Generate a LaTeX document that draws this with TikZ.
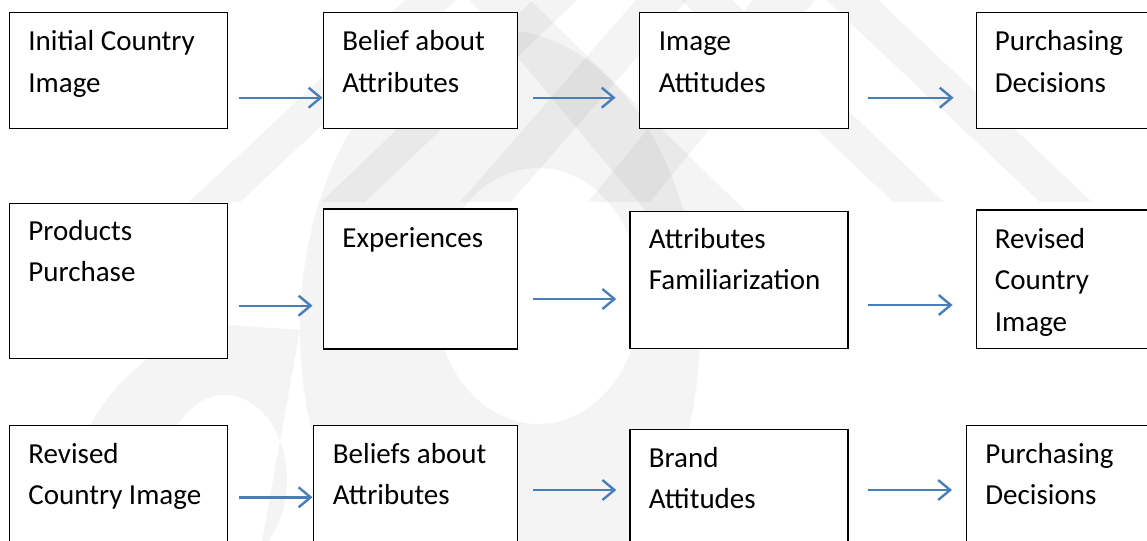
\documentclass[tikz,border=0pt]{standalone}
\usepackage{fontspec}
\setmainfont{Carlito}
\usetikzlibrary{arrows.meta,calc}
\definecolor{arrowblue}{HTML}{4A7EBB}
\begin{document}
\begin{tikzpicture}[x=0.5pt,y=-0.5pt,
  box/.style 2 args={draw=black, line width=0.6pt, fill=white, rectangle,
    anchor=north west, inner sep=0pt, minimum width=#1*0.5pt, minimum height=#2*0.5pt},
  lbl/.style={anchor=base west, inner sep=0pt, font=\fontsize{14.5pt}{20.75pt}\selectfont},
  arr/.style={draw=arrowblue, line width=1.2pt, -{Straight Barb[length=6pt,width=10pt]}},
  wm/.style={fill=black, fill opacity=0.045, draw=none}]
\useasboundingbox (0,0) rectangle (1147,541);
\clip (0,0) rectangle (1147,541);

% faint watermark
\fill[wm] (405,0) -- (456,0) -- (240,202) -- (189,202) -- cycle;
\fill[wm] (533,0) -- (577,0) -- (365,202) -- (321,202) -- cycle;
\fill[wm] (636,0) -- (687,0) -- (511,202) -- (460,202) -- cycle;
\fill[wm] (470,0) -- (530,0) -- (775,240) -- (670,240) -- cycle;
\fill[wm] (753,0) -- (815,0) -- (650,202) -- (588,202) -- cycle;
\fill[wm] (681,0) -- (732,0) -- (944,202) -- (893,202) -- cycle;
\fill[wm] (826,0) -- (878,0) -- (1092,202) -- (1040,202) -- cycle;
\fill[wm, even odd rule] (500,330) ellipse [x radius=200, y radius=300]
  (538,296) ellipse [x radius=103, y radius=128];
\fill[wm, even odd rule] (300,330) -- (262,541) -- (55,541)
  .. controls (60,450) and (120,340) .. (230,325) -- cycle
  (225,480) ellipse [x radius=62, y radius=85];

% boxes
\node[box={218.5}{116}] (a1) at (8.5,11.7) {};
\node[box={194}{116}] (a2) at (323,11.7) {};
\node[box={209}{116}] (a3) at (638.6,11.7) {};
\node[box={220}{116}] (a4) at (975.6,11.7) {};
\node[box={218.5}{155}] (b1) at (8.5,202.7) {};
\node[box={194}{140}] (b2) at (323,208.3) {};
\node[box={218}{137}] (b3) at (629.3,210.7) {};
\node[box={220}{138.4}] (b4) at (975.6,209.3) {};
\node[box={218.5}{140}] (c1) at (8.5,425) {};
\node[box={204}{140}] (c2) at (313.2,425) {};
\node[box={218}{140}] (c3) at (629.3,429) {};
\node[box={220}{140}] (c4) at (965.5,425) {};

% labels
\node[lbl] (a1t) at (28,50.5) {\parbox[t]{110pt}{Initial Country\\Image}};
\node[lbl] (a2t) at (342,50.5) {\parbox[t]{110pt}{Belief about\\Attributes}};
\node[lbl] (a3t) at (658.5,50.5) {\parbox[t]{110pt}{Image\\Attitudes}};
\node[lbl] (a4t) at (994.5,50.5) {\parbox[t]{110pt}{Purchasing\\Decisions}};
\node[lbl] (b1t) at (28,240) {\parbox[t]{110pt}{Products\\Purchase}};
\node[lbl] (b2t) at (342,247) {\parbox[t]{110pt}{Experiences}};
\node[lbl] (b3t) at (648.5,248) {\parbox[t]{110pt}{Attributes\\Familiarization}};
\node[lbl] (b4t) at (994.5,248) {\parbox[t]{110pt}{Revised\\Country\\Image}};
\node[lbl] (c1t) at (28,463) {\parbox[t]{110pt}{Revised\\Country Image}};
\node[lbl] (c2t) at (332.5,463) {\parbox[t]{110pt}{Beliefs about\\Attributes}};
\node[lbl] (c3t) at (648.5,467) {\parbox[t]{110pt}{Brand\\Attitudes}};
\node[lbl] (c4t) at (985,463) {\parbox[t]{110pt}{Purchasing\\Decisions}};

% connectors
\coordinate (r1) at (0,97.7);
\coordinate (r2a) at (0,305.7);
\coordinate (r2b) at (0,299);
\coordinate (r2c) at (0,305);
\coordinate (r3a) at (0,497.3);
\coordinate (r3b) at (0,490);
\draw[arr] ($(a1.east |- r1)+(11,0)$) -- ($(a2.west |- r1)+(-0.5,0)$);
\draw[arr] ($(a2.east |- r1)+(15,0)$) -- ($(a3.west |- r1)+(-23,0)$);
\draw[arr] ($(a3.east |- r1)+(19.5,0)$) -- ($(a4.west |- r1)+(-22,0)$);
\draw[arr] ($(b1.east |- r2a)+(11,0)$) -- ($(b2.west |- r2a)+(-10.5,0)$);
\draw[arr] ($(b2.east |- r2b)+(15,0)$) -- ($(b3.west |- r2b)+(-13,0)$);
\draw[arr] ($(b3.east |- r2c)+(19.5,0)$) -- ($(b4.west |- r2c)+(-23,0)$);
\draw[arr] ($(c1.east |- r3a)+(11,0)$) -- ($(c2.west |- r3a)+(-0.7,0)$);
\draw[arr] ($(c2.east |- r3b)+(15,0)$) -- ($(c3.west |- r3b)+(-13,0)$);
\draw[arr] ($(c3.east |- r3b)+(19.5,0)$) -- ($(c4.west |- r3b)+(-13.5,0)$);
\end{tikzpicture}
\end{document}
